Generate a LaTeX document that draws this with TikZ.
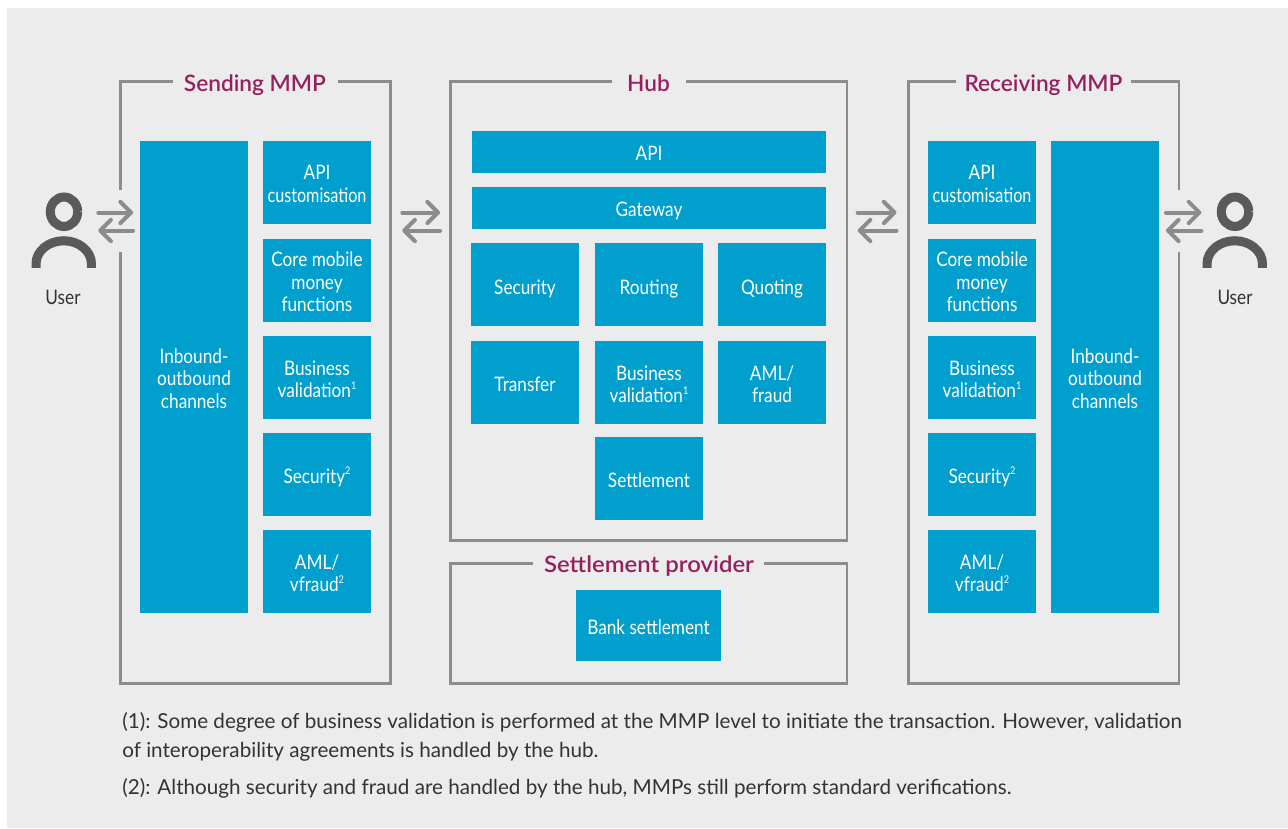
\documentclass[tikz,border=0pt]{standalone}
\usepackage{fontspec}
\setmainfont{Lato}
\newfontfamily\boxfont[FakeStretch=0.86]{Lato}
\newfontfamily\titlefont{Lato Semibold}
\newfontfamily\notefont{Lato}
\usetikzlibrary{arrows.meta}
\definecolor{bgc}{HTML}{ECECEC}
\definecolor{boxc}{HTML}{009FCE}
\definecolor{framec}{HTML}{8C8C8C}
\definecolor{titlec}{HTML}{96205F}
\definecolor{iconc}{HTML}{5A5A5A}
\definecolor{notec}{HTML}{333333}
\newcommand{\sps}[1]{\raisebox{0.42em}{\fontsize{8}{8}\selectfont #1}}
\newcommand{\narrowcust}{\scalebox{0.94}[1]{customisation}}
\tikzset{
  bluebox/.style={fill=boxc,inner sep=0pt},
  boxtext/.style={text=white,inner sep=0pt,align=center,font=\boxfont\fontsize{15}{16.9}\selectfont},
  areabox/.style={inner sep=0pt},
  frameline/.style={draw=framec,line width=1.95pt,line cap=butt,line join=miter},
  titletext/.style={text=titlec,inner sep=0pt,anchor=base,font=\titlefont\fontsize{17}{20}\selectfont},
  usertext/.style={text=notec,inner sep=0pt,font=\boxfont\fontsize{15}{17}\selectfont},
  notetext/.style={text=notec,inner sep=0pt,anchor=base west,font=\notefont\fontsize{15.48}{17}\selectfont},
  flowarrow/.style={draw=framec,line width=3pt,line cap=round,-{Straight Barb[length=8pt,width=16pt,round,line width=3pt]}},
  iconline/.style={draw=iconc,line width=6.8pt,line cap=butt},
}
% [extra text drop in pt], name, x1, y1, x2, y2, text
\newcommand{\pxbox}[7][0]{%
  \pgfmathsetmacro{\pxcx}{(#3+#5)/2}\pgfmathsetmacro{\pxcy}{(#4+#6)/2}%
  \pgfmathsetmacro{\pxw}{(#5-#3)*0.75}\pgfmathsetmacro{\pxh}{(#6-#4)*0.75}%
  \pgfmathsetmacro{\pxdrop}{1.2+#1}%
  \node[bluebox,minimum width=\pxw pt,minimum height=\pxh pt] (#2) at (\pxcx,\pxcy) {};
  \node[boxtext] (#2t) at ([yshift=-\pxdrop pt]#2.center) {#7};}
\newcommand{\pxarea}[5]{%
  \pgfmathsetmacro{\pxcx}{(#2+#4)/2}\pgfmathsetmacro{\pxcy}{(#3+#5)/2}%
  \pgfmathsetmacro{\pxw}{(#4-#2)*0.75}\pgfmathsetmacro{\pxh}{(#5-#3)*0.75}%
  \node[areabox,minimum width=\pxw pt,minimum height=\pxh pt] (#1) at (\pxcx,\pxcy) {};}
\begin{document}
\begin{tikzpicture}[x=0.75pt,y=-0.75pt]
\useasboundingbox (0,0) rectangle (1288,828);
\fill[white] (0,0) rectangle (1288,828);
\fill[bgc] (7,8) rectangle (1288,828);

% area nodes (frames)
\pxarea{send}{120.7}{82}{390}{683.3}
\pxarea{hub}{451}{82}{846.7}{540}
\pxarea{prov}{451}{563.5}{846.7}{683.3}
\pxarea{recv}{908.7}{82}{1178.7}{683.3}

% titles
\node[titletext] (tsend) at (255,91.7) {Sending MMP};
\node[titletext] (thub) at (648.5,91.7) {Hub};
\node[titletext] (tprov) at (649,572.7) {\scalebox{1.055}[1]{Settlement provider}};
\node[titletext] (trecv) at (1043.5,91.7) {Receiving MMP};

% frame lines
\draw[frameline] (173,0 |- send.north) -| (send.west |- 0,190);
\draw[frameline] (send.west |- 0,252) |- (send.south east) |- (338,0 |- send.north);
\draw[frameline] (612,0 |- hub.north) -| (hub.west) |- (hub.south east) |- (686,0 |- hub.north);
\draw[frameline] (533,0 |- prov.north) -| (prov.west) |- (prov.south east) |- (764,0 |- prov.north);
\draw[frameline] (956,0 |- recv.north) -| (recv.west) |- (recv.south east) -- (recv.east |- 0,252);
\draw[frameline] (recv.east |- 0,190) |- (1131,0 |- recv.north);

% sending boxes
\pxbox{sinb}{140}{141}{248}{613}{Inbound-\\outbound\\channels}
\pxbox{sapi}{263}{141}{371}{224}{API\\\narrowcust}
\pxbox{score}{263}{239}{371}{322}{Core mobile\\money\\functions}
\pxbox{sbus}{263}{336}{371}{419}{Business\\validation\sps{1}}
\pxbox[0.6]{ssec}{263}{433}{371}{516}{Security\sps{2}}
\pxbox{saml}{263}{530}{371}{613}{AML/\\vfraud\sps{2}}

% hub boxes
\pxbox{hapi}{472}{131}{826}{173}{API}
\pxbox[1.3]{hgate}{472}{187}{826}{229}{Gateway}
\pxbox[2.2]{hsec}{471}{243}{579}{326}{Security}
\pxbox[2.2]{hrout}{595}{243}{703}{326}{Routing}
\pxbox[2.2]{hquot}{718}{243}{826}{326}{Quoting}
\pxbox{htran}{471}{341}{579}{424}{Transfer}
\pxbox{hbus}{595}{341}{703}{424}{Business\\validation\sps{1}}
\pxbox{haml}{718}{341}{826}{424}{AML/\\fraud}
\pxbox{hset}{595}{437}{703}{520}{Settlement}
\pxbox{pbank}{576}{590}{721}{661}{Bank settlement}

% receiving boxes
\pxbox{rapi}{928}{141}{1036}{224}{API\\\narrowcust}
\pxbox{rcore}{928}{239}{1036}{322}{Core mobile\\money\\functions}
\pxbox{rbus}{928}{336}{1036}{419}{Business\\validation\sps{1}}
\pxbox[0.6]{rsec}{928}{433}{1036}{516}{Security\sps{2}}
\pxbox{raml}{928}{530}{1036}{613}{AML/\\vfraud\sps{2}}
\pxbox{rinb}{1051}{141}{1159}{613}{Inbound-\\outbound\\channels}

% users
\pxarea{uleft}{32}{192}{96}{267.5}
\pxarea{uright}{1203}{192}{1267}{267.5}
\draw[iconline] ([shift={(0,-18)}]uleft.center) ++(13.7,0) arc[start angle=0,end angle=360,x radius=13.7,y radius=14.7];
\draw[iconline] (uleft.south west) ++(4.3,0) -- ++(0,-4) arc[start angle=180,end angle=360,x radius=27.7,y radius=23] -- ++(0,4);
\draw[iconline] ([shift={(0,-18)}]uright.center) ++(13.7,0) arc[start angle=0,end angle=360,x radius=13.7,y radius=14.7];
\draw[iconline] (uright.south west) ++(4.3,0) -- ++(0,-4) arc[start angle=180,end angle=360,x radius=27.7,y radius=23] -- ++(0,4);
\node[usertext] (lbl1) at (63,297) {User};
\node[usertext] (lbl2) at (1235,297) {User};

% arrows
\draw[flowarrow,shorten <=1.5pt,shorten >=5pt] (uleft.east |- 0,212.5) -- (sinb.west |- 0,212.5);
\draw[flowarrow,shorten <=5pt,shorten >=1.5pt] (sinb.west |- 0,230.5) -- (uleft.east |- 0,230.5);
\draw[flowarrow,shorten <=9pt,shorten >=8pt] (send.east |- 0,212.5) -- (hub.west |- 0,212.5);
\draw[flowarrow,shorten <=8pt,shorten >=9pt] (hub.west |- 0,230.5) -- (send.east |- 0,230.5);
\draw[flowarrow,shorten <=8pt,shorten >=9pt] (hub.east |- 0,212.5) -- (recv.west |- 0,212.5);
\draw[flowarrow,shorten <=9pt,shorten >=8pt] (recv.west |- 0,230.5) -- (hub.east |- 0,230.5);
\draw[flowarrow,shorten <=5pt,shorten >=1pt] (rinb.east |- 0,212.5) -- (uright.west |- 0,212.5);
\draw[flowarrow,shorten <=1pt,shorten >=5pt] (uright.west |- 0,230.5) -- (rinb.east |- 0,230.5);

% notes
\node[notetext] (n1) at (122,728) {(1): Some degree of business validation is performed at the MMP level to initiate the transaction. However, validation};
\node[notetext] (n2) at (122,757) {of interoperability agreements is handled by the hub.};
\node[notetext] (n3) at (122,794) {(2): Although security and fraud are handled by the hub, MMPs still perform standard verifications.};
\end{tikzpicture}
\end{document}
